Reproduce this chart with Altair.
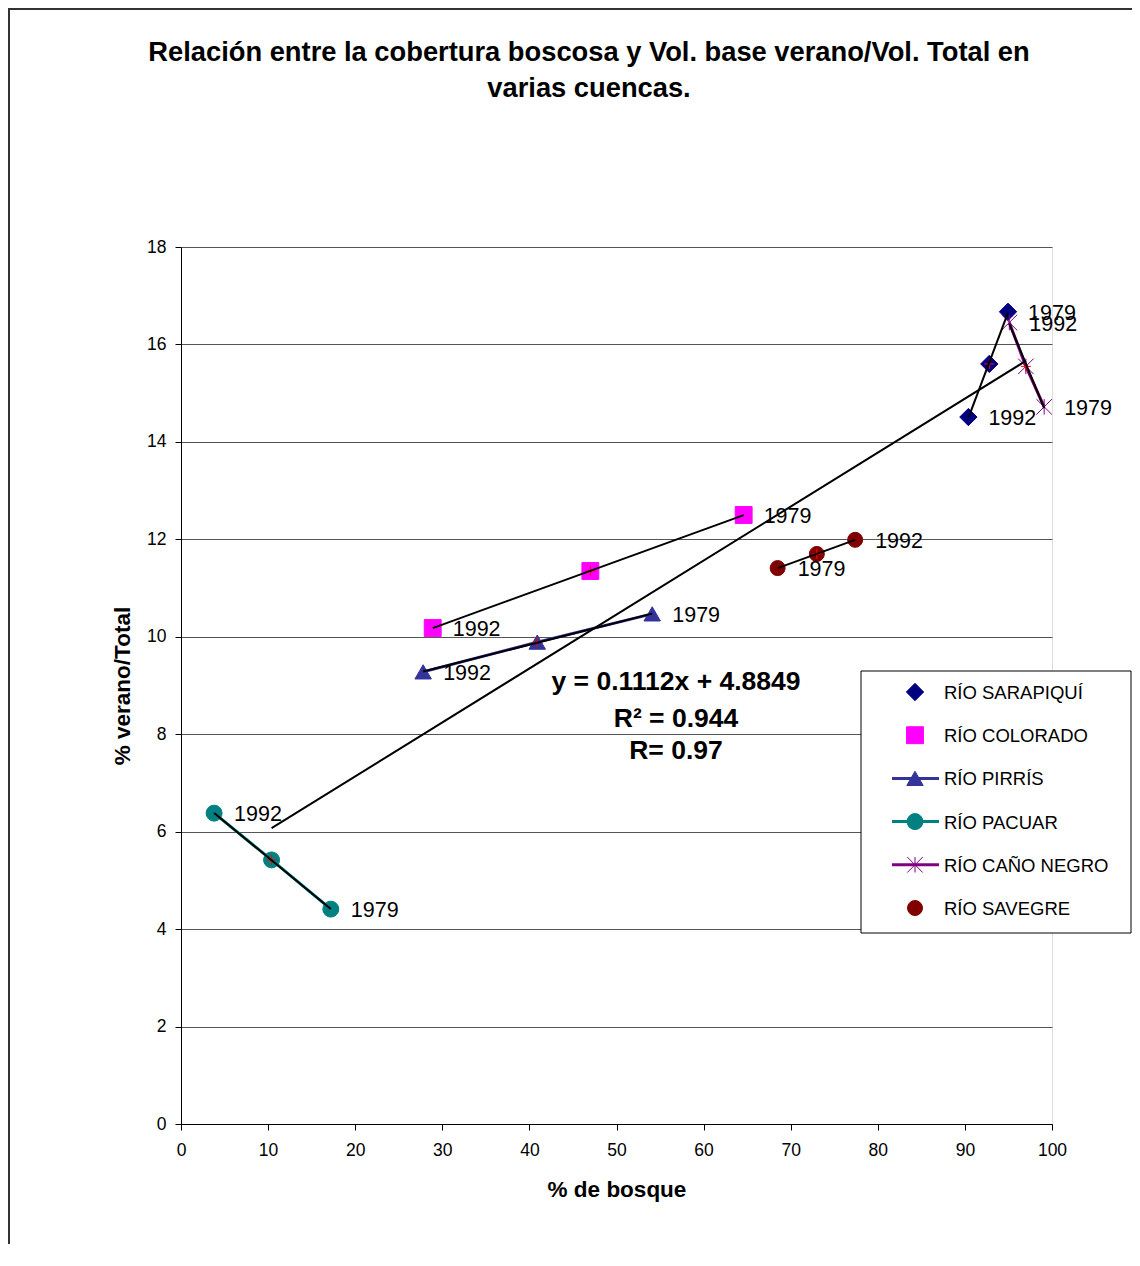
import altair as alt
import pandas as pd

FONT = "Liberation Sans"

series_names = ["RÍO SARAPIQUÍ", "RÍO COLORADO", "RÍO PIRRÍS", "RÍO PACUAR", "RÍO CAÑO NEGRO", "RÍO SAVEGRE"]
series_colors = ["#000080", "#FF00FF", "#333399", "#008080", "#800080", "#800000"]
ASTER = "M-1,-1L1,1M-1,1L1,-1M0,-1L0,1"
series_shapes = ["diamond", "square", "triangle-up", "circle", ASTER, "circle"]
series_sizes = [300, 225, 300, 240, 300, 45]
lined_series = ["RÍO PIRRÍS", "RÍO PACUAR", "RÍO CAÑO NEGRO"]

# % de bosque (x), % verano/Total (y), year label ("" = mean point)
sarapiqui_x = [90.4, 92.8, 94.95]
sarapiqui_y = [14.51, 15.60, 16.67]
sarapiqui_year = ["1992", "", "1979"]

colorado_x = [28.9, 47.0, 64.6]
colorado_y = [10.18, 11.35, 12.50]
colorado_year = ["1992", "", "1979"]

pirris_x = [27.8, 40.9, 54.1]
pirris_y = [9.28, 9.89, 10.47]
pirris_year = ["1992", "", "1979"]

pacuar_x = [3.8, 10.4, 17.2]
pacuar_y = [6.38, 5.42, 4.41]
pacuar_year = ["1992", "", "1979"]

cano_x = [95.1, 97.0, 99.1]
cano_y = [16.45, 15.55, 14.72]
cano_year = ["1992", "", "1979"]

savegre_x = [68.5, 73.0, 77.4]
savegre_y = [11.41, 11.70, 11.99]
savegre_year = ["1979", "", "1992"]

x_ticks = list(range(0, 101, 10))
y_ticks = list(range(0, 19, 2))

title_lines = ["Relación entre la cobertura boscosa y Vol. base verano/Vol. Total en", "varias cuencas."]
eq_lines = ["y = 0.1112x + 4.8849", "R² = 0.944", "R= 0.97"]

rows = []
for name, xs, ys, yrs in zip(
    series_names,
    [sarapiqui_x, colorado_x, pirris_x, pacuar_x, cano_x, savegre_x],
    [sarapiqui_y, colorado_y, pirris_y, pacuar_y, cano_y, savegre_y],
    [sarapiqui_year, colorado_year, pirris_year, pacuar_year, cano_year, savegre_year],
):
    for xv, yv, yr in zip(xs, ys, yrs):
        rows.append({"series": name, "x": xv, "y": yv, "year": yr})
df = pd.DataFrame(rows)

color_scale = alt.Scale(domain=series_names, range=series_colors)
shape_scale = alt.Scale(domain=series_names, range=series_shapes)
size_scale = alt.Scale(domain=series_names, range=series_sizes)

x_axis = alt.Axis(values=x_ticks, title="% de bosque", grid=False, tickSize=6, labelFlush=False,
                  labelFontSize=17.5, titleFontSize=22.5, titleFontWeight="bold",
                  labelPadding=11, titlePadding=20, domainColor="black", tickColor="black",
                  labelColor="black", titleColor="black", labelFont=FONT, titleFont=FONT)
y_axis = alt.Axis(values=y_ticks, title="% verano/Total", grid=True, gridColor="#555555",
                  tickSize=6, labelFlush=False, labelFontSize=17.5, titleFontSize=22.5,
                  titleFontWeight="bold",
                  labelPadding=9, titlePadding=12, domainColor="black", tickColor="black",
                  labelColor="black", titleColor="black", labelFont=FONT, titleFont=FONT)

X = alt.X("x:Q", scale=alt.Scale(domain=[0, 100], nice=False, zero=False), axis=x_axis)
Y = alt.Y("y:Q", scale=alt.Scale(domain=[0, 18], nice=False), axis=y_axis)

base = alt.Chart(df)

colored_lines = base.transform_filter(
    alt.FieldOneOfPredicate(field="series", oneOf=lined_series)
).mark_line(strokeWidth=3).encode(
    x=X, y=Y, detail="series:N",
    color=alt.Color("series:N", scale=color_scale, legend=None),
)

points = base.mark_point(filled=True, opacity=1, strokeWidth=1).encode(
    x=X, y=Y,
    color=alt.Color("series:N", scale=color_scale, legend=None),
    stroke=alt.Stroke("series:N", scale=color_scale, legend=None),
    shape=alt.Shape("series:N", scale=shape_scale, legend=None),
    size=alt.Size("series:N", scale=size_scale, legend=None),
)

mean_plus = base.transform_filter("datum.year == ''").mark_point(
    shape="M-1,0L1,0M0,-1L0,1", size=100, color="red", filled=False, opacity=1, strokeWidth=1
).encode(x=X, y=Y)

series_trend = base.transform_regression("x", "y", groupby=["series"]).mark_line(
    color="black", strokeWidth=2
).encode(x=X, y=Y, detail="series:N")

overall_trend = base.transform_filter("datum.year == ''").transform_regression("x", "y").mark_line(
    color="black", strokeWidth=2
).encode(x=X, y=Y)

labels = base.transform_filter("datum.year != ''").mark_text(
    align="left", baseline="middle", dx=20, dy=2, fontSize=21.5, font=FONT, color="black"
).encode(x=X, y=Y, text="year:N")

one = pd.DataFrame({"k": [0]})
eq_layers = []
for txt, ypos in zip(eq_lines, [435, 472, 504]):
    eq_layers.append(
        alt.Chart(one).mark_text(align="center", baseline="middle", fontSize=26.5, fontWeight="bold",
                                 font=FONT, color="black")
        .encode(x=alt.value(495), y=alt.value(ypos), text=alt.value(txt))
    )

title_layers = []
for txt, ypos in zip(title_lines, [-186, -150]):
    title_layers.append(
        alt.Chart(one).mark_text(align="center", baseline="alphabetic", fontSize=27.3, fontWeight="bold",
                                 font=FONT, color="black")
        .encode(x=alt.value(408), y=alt.value(ypos), text=alt.value(txt))
    )

data_layer = alt.layer(colored_lines, points, mean_plus, labels, series_trend, overall_trend,
                       *eq_layers, *title_layers)

# ---- legend box ----
legend_df = pd.DataFrame({"series": series_names})
LY = alt.Y("series:N", scale=alt.Scale(type="point", domain=series_names, range=[445, 661], padding=0), axis=None)

legend_box = alt.Chart(one).mark_rect(fill="white", stroke="black", strokeWidth=1).encode(
    x=alt.value(680), x2=alt.value(950), y=alt.value(424), y2=alt.value(686)
)
legend_lines = alt.Chart(legend_df).transform_filter(
    alt.FieldOneOfPredicate(field="series", oneOf=lined_series)
).mark_rule(strokeWidth=3).encode(
    x=alt.value(711), x2=alt.value(758), y=LY,
    color=alt.Color("series:N", scale=color_scale, legend=None),
)
legend_points = alt.Chart(legend_df).mark_point(filled=True, opacity=1, strokeWidth=1).encode(
    x=alt.value(734), y=LY,
    color=alt.Color("series:N", scale=color_scale, legend=None),
    stroke=alt.Stroke("series:N", scale=color_scale, legend=None),
    shape=alt.Shape("series:N", scale=shape_scale, legend=None),
    size=alt.Size("series:N", scale=size_scale, legend=None),
)
legend_text = alt.Chart(legend_df).mark_text(
    align="left", baseline="middle", fontSize=18.5, font=FONT, color="black", dy=1
).encode(x=alt.value(763), y=LY, text="series:N")

legend_layer = alt.layer(legend_box, legend_lines, legend_points, legend_text)

# ---- outer frame (left and top edges) ----
frame_left = alt.Chart(one).mark_rule(color="#333333", strokeWidth=2).encode(
    x=alt.value(-172), y=alt.value(-240), y2=alt.value(1000)
)
frame_top = alt.Chart(one).mark_rule(color="#333333", strokeWidth=2).encode(
    x=alt.value(-173), x2=alt.value(951), y=alt.value(-238)
)
frame_layer = alt.layer(frame_left, frame_top)

chart = alt.layer(frame_layer, data_layer, legend_layer).resolve_scale(y="independent").properties(
    width=871, height=877,
    autosize=alt.AutoSizeParams(type="none"),
    padding={"left": 173, "top": 239, "right": 80, "bottom": 120},
).configure_view(stroke="#888888", strokeWidth=1).configure(background="white")

chart.save("out.html", embed_options={"renderer": "svg", "actions": False})
